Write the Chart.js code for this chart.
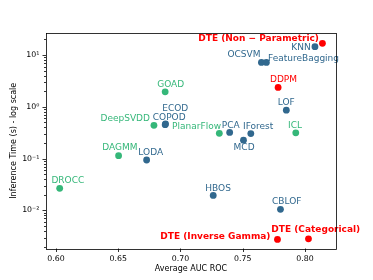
<!DOCTYPE html>
<html>
<head>
<meta charset="utf-8">
<script src="https://cdn.jsdelivr.net/npm/chart.js@4/dist/chart.umd.min.js"></script>
<style>
  html, body { margin: 0; padding: 0; background: #ffffff; }
  #wrap { width: 373px; height: 280px; }
</style>
</head>
<body>
<div id="wrap"><canvas id="c" width="373" height="280"></canvas></div>
<script>
// ---- Data ----
const classicNames = ["KNN", "OCSVM", "FeatureBagging", "LOF", "IForest", "PCA", "MCD", "ECOD", "COPOD", "LODA", "HBOS", "CBLOF"];
const classicAuc   = [0.808, 0.765, 0.769, 0.785, 0.7565, 0.7395, 0.7506, 0.688, 0.6877, 0.6728, 0.7263, 0.7803];
const classicTime  = [14.5, 7.2, 7.2, 0.86, 0.305, 0.32, 0.227, 0.47, 0.452, 0.094, 0.0195, 0.0105];

const deepNames = ["GOAD", "DeepSVDD", "PlanarFlow", "ICL", "DAGMM", "DROCC"];
const deepAuc   = [0.6877, 0.6787, 0.7312, 0.7926, 0.6503, 0.603];
const deepTime  = [1.95, 0.44, 0.308, 0.314, 0.114, 0.0267];

const dteNames = ["DTE (Non \u2212 Parametric)", "DDPM", "DTE (Inverse Gamma)", "DTE (Categorical)"];
const dteAuc   = [0.814, 0.7784, 0.7779, 0.8028];
const dteTime  = [16.8, 2.37, 0.00275, 0.00283];

const xTicks = [0.60, 0.65, 0.70, 0.75, 0.80];
const xLabel = "Average AUC ROC";
const yLabel = "Inference Time (s) - log scale";

// ---- Styling / label placement (not data) ----
const COL_BLUE = "#31688e", COL_GREEN = "#35b779", COL_RED = "#ff0000";
const boldLabels = ["DTE (Non \u2212 Parametric)", "DTE (Inverse Gamma)", "DTE (Categorical)"];
const labelOffsets = {
  "DTE (Non \u2212 Parametric)": {dx: -3.5, dy: -4.5, align: "right"},
  "KNN": {dx: -4.3, dy: 0.6, align: "right"},
  "OCSVM": {dx: -1, dy: -7.3, align: "right"},
  "FeatureBagging": {dx: 1.6, dy: -4, align: "left"},
  "DDPM": {dx: 5.4, dy: -7.3, align: "center"},
  "LOF": {dx: 0, dy: -7.3, align: "center"},
  "ICL": {dx: -0.7, dy: -7.4, align: "center"},
  "IForest": {dx: 7.3, dy: -6.6, align: "center"},
  "PCA": {dx: 1, dy: -7, align: "center"},
  "PlanarFlow": {dx: 1.7, dy: -6.4, align: "right"},
  "MCD": {dx: 0.6, dy: 7.7, align: "center"},
  "GOAD": {dx: 5.5, dy: -7, align: "center"},
  "DeepSVDD": {dx: -4, dy: -7, align: "right"},
  "ECOD": {dx: 9.7, dy: -15.2, align: "center"},
  "COPOD": {dx: 4, dy: -7.5, align: "center"},
  "DAGMM": {dx: 1.3, dy: -7.6, align: "center"},
  "LODA": {dx: 4.1, dy: -7, align: "center"},
  "DROCC": {dx: 8.1, dy: -7.3, align: "center"},
  "HBOS": {dx: 4.9, dy: -6.7, align: "center"},
  "CBLOF": {dx: 6.3, dy: -7.3, align: "center"},
  "DTE (Inverse Gamma)": {dx: -7, dy: -3, align: "right"},
  "DTE (Categorical)": {dx: 7.3, dy: -9.3, align: "center"}
};

function pts(xs, ys) { return xs.map((x, i) => ({x: x, y: ys[i]})); }

const FONT = "'DejaVu Sans', sans-serif";
const supers = {"-": "\u207B", "0": "\u2070", "1": "\u00B9", "2": "\u00B2", "3": "\u00B3"};
function supText(e) { return "10" + String(e).split("").map(ch => supers[ch]).join(""); }

const labelPlugin = {
  id: "pointLabels",
  afterDatasetsDraw(chart) {
    const ctx = chart.ctx;
    chart.data.datasets.forEach((ds, di) => {
      const meta = chart.getDatasetMeta(di);
      meta.data.forEach((el, i) => {
        const name = ds.names[i];
        const o = labelOffsets[name] || {dx: 0, dy: -7, align: "center"};
        ctx.save();
        ctx.font = (boldLabels.includes(name) ? "bold " : "") + "9px " + FONT;
        ctx.fillStyle = ds.backgroundColor;
        ctx.textAlign = o.align;
        ctx.textBaseline = "middle";
        ctx.fillText(name, el.x + o.dx, el.y + o.dy);
        ctx.restore();
      });
    });
  }
};

const framePlugin = {
  id: "frameTicks",
  afterDraw(chart) {
    const ctx = chart.ctx;
    const a = chart.chartArea;
    ctx.save();
    ctx.strokeStyle = "#000";
    ctx.lineWidth = 0.8;
    const xs = chart.scales.x, ys = chart.scales.y;
    ctx.beginPath();
    xs.ticks.forEach(t => {
      const px = Math.round(xs.getPixelForValue(t.value)) + 0.5;
      ctx.moveTo(px, a.bottom); ctx.lineTo(px, a.bottom + 3.5);
    });
    ys.ticks.forEach(t => {
      const py = Math.round(ys.getPixelForValue(t.value)) + 0.5;
      const lg = Math.log10(t.value);
      const major = Math.abs(lg - Math.round(lg)) < 1e-6;
      ctx.moveTo(a.left, py); ctx.lineTo(a.left - (major ? 3.5 : 2), py);
    });
    ctx.stroke();
    ctx.strokeRect(Math.round(a.left) + 0.5, Math.round(a.top) + 0.5,
                   Math.round(a.right - a.left), Math.round(a.bottom - a.top));
    ctx.restore();
  }
};

const ds = (names, xs, ys, color, order) => ({
  names: names,
  data: pts(xs, ys),
  backgroundColor: color,
  borderColor: color,
  borderWidth: 0,
  pointRadius: 3.4,
  pointHoverRadius: 3.4,
  order: order
});

new Chart(document.getElementById("c"), {
  type: "scatter",
  data: {
    datasets: [
      ds(classicNames, classicAuc, classicTime, COL_BLUE, 2),
      ds(deepNames, deepAuc, deepTime, COL_GREEN, 1),
      ds(dteNames, dteAuc, dteTime, COL_RED, 0)
    ]
  },
  options: {
    responsive: false,
    devicePixelRatio: 1,
    animation: false,
    events: [],
    layout: { padding: { top: 33, right: 37, left: 0, bottom: 0 } },
    plugins: { legend: { display: false }, tooltip: { enabled: false } },
    scales: {
      x: {
        type: "linear",
        min: 0.592, max: 0.8249,
        afterBuildTicks: s => { s.ticks = xTicks.map(v => ({value: v})); },
        afterFit: s => { s.height = 31.5; },
        grid: { display: false, drawTicks: false },
        border: { display: false },
        ticks: {
          color: "#000", font: { family: FONT, size: 7.8 }, padding: 6,
          maxRotation: 0, autoSkip: false,
          callback: v => Number(v).toFixed(2)
        },
        title: { display: true, text: xLabel, color: "#000",
                 font: { family: FONT, size: 8 }, padding: { top: 0, bottom: 6.2 } }
      },
      y: {
        type: "logarithmic",
        min: 0.00184, max: 26.6,
        afterBuildTicks: s => {
          const t = [];
          for (let e = -3; e <= 1; e++) {
            for (let m = 1; m <= 9; m++) {
              const v = m * Math.pow(10, e);
              if (v >= s.min && v <= s.max) t.push({value: v, major: m === 1});
            }
          }
          s.ticks = t;
        },
        afterFit: s => { s.width = 46; },
        grid: { display: false, drawTicks: false },
        border: { display: false },
        ticks: {
          color: "#000", font: { family: FONT, size: 7.8 }, padding: 6.7,
          autoSkip: false,
          callback: v => {
            const lg = Math.log10(v);
            if (Math.abs(lg - Math.round(lg)) < 1e-6) return supText(Math.round(lg));
            return "";
          }
        },
        title: { display: true, text: yLabel, color: "#000",
                 font: { family: FONT, size: 8 }, padding: { top: 9.3, bottom: 0 } }
      }
    }
  },
  plugins: [labelPlugin, framePlugin]
});
</script>
</body>
</html>
